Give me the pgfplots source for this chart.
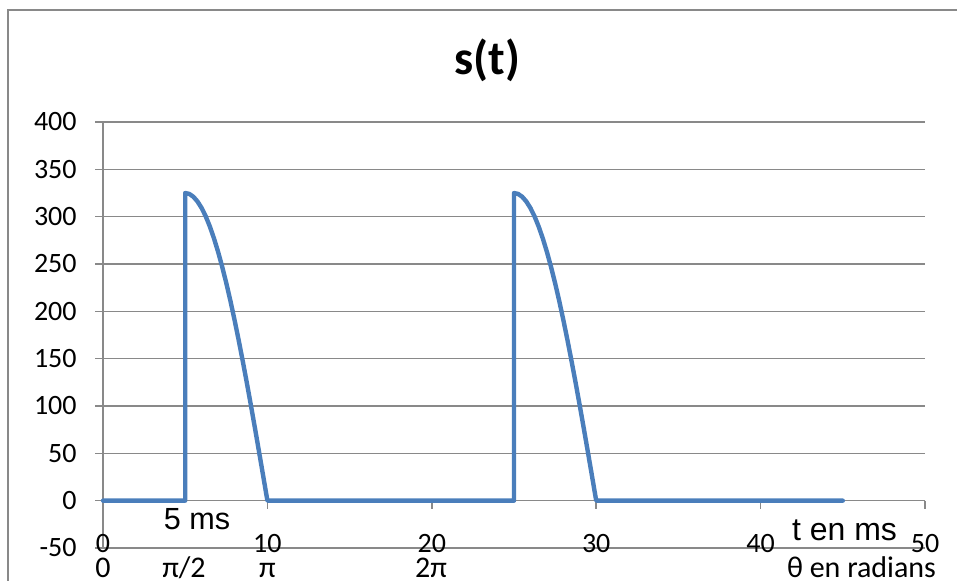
\documentclass[border=0pt]{standalone}
\usepackage{fontspec}
\setmainfont{Carlito}
\newfontfamily\arialf{Liberation Sans}
\usepackage{pgfplots}
\pgfplotsset{compat=1.18}
\definecolor{sblue}{RGB}{74,126,187}
\definecolor{ggray}{RGB}{137,137,137}
\begin{document}
\begin{tikzpicture}
\useasboundingbox (0,0) rectangle (478.5pt,290.5pt);
\draw[ggray, line width=0.75pt] (4pt,-2pt) -- (4pt,285.5pt) -- (480pt,285.5pt);
\begin{axis}[
 at={(51.5pt,16.5pt)}, anchor=south west,
 width=411pt, height=213pt, scale only axis,
 xmin=0,xmax=50,ymin=-50,ymax=400,
 axis x line*=bottom, axis y line*=left,
 axis line style={ggray, line width=0.75pt, -},
 xtick={0,10,20,30,40,50}, xticklabels={0,10,20,30,40,50},
 ytick={-50,0,50,100,150,200,250,300,350,400},
 yticklabels={-50,0,50,100,150,200,250,300,350,400},
 ymajorgrids, grid style={ggray, line width=0.75pt},
 x tick style={draw=none},
 y tick style={ggray, line width=0.75pt},
 tick align=outside, major tick length=4pt,
 tick label style={font=\fontsize{14}{16}\selectfont, text=black},
 xticklabel style={anchor=base, yshift=1.5pt, inner sep=0pt},
 yticklabel style={anchor=east, inner sep=0pt, xshift=-9pt},
 clip=false,
]
\draw[ggray, line width=0.75pt] (axis cs:0,0) -- (axis cs:50,0);
\draw[ggray, line width=0.75pt] (axis cs:0,0) -- ([yshift=-4pt]axis cs:0,0);
\draw[ggray, line width=0.75pt] (axis cs:10,0) -- ([yshift=-4pt]axis cs:10,0);
\draw[ggray, line width=0.75pt] (axis cs:20,0) -- ([yshift=-4pt]axis cs:20,0);
\draw[ggray, line width=0.75pt] (axis cs:30,0) -- ([yshift=-4pt]axis cs:30,0);
\draw[ggray, line width=0.75pt] (axis cs:40,0) -- ([yshift=-4pt]axis cs:40,0);
\draw[ggray, line width=0.75pt] (axis cs:50,0) -- ([yshift=-4pt]axis cs:50,0);
\addplot[sblue, line width=2.2pt, line join=round, line cap=round, no marks] coordinates {
(0,0) (5,0) (5,325) (5.25,324.0) (5.5,321.0) (5.75,316.0) (6,309.1) (6.25,300.3) (6.5,289.6) (6.75,277.1) (7,262.9) (7.25,247.1) (7.5,229.8) (7.75,211.1) (8,191.0) (8.25,169.8) (8.5,147.5) (8.75,124.4) (9,100.4) (9.25,75.9) (9.5,50.8) (9.75,25.5) (10,0)
(25,0) (25,325) (25.25,324.0) (25.5,321.0) (25.75,316.0) (26,309.1) (26.25,300.3) (26.5,289.6) (26.75,277.1) (27,262.9) (27.25,247.1) (27.5,229.8) (27.75,211.1) (28,191.0) (28.25,169.8) (28.5,147.5) (28.75,124.4) (29,100.4) (29.25,75.9) (29.5,50.8) (29.75,25.5) (30,0)
(45,0)
};
\end{axis}
\node[anchor=base, font=\bfseries\fontsize{24}{28}\selectfont] at (243.75pt,253pt) {s(t)};
\node[anchor=base, inner sep=0pt, font=\arialf\fontsize{15.3}{18}\selectfont] at (98.5pt,25.5pt) {5 ms};
\node[anchor=base, inner sep=0pt, font=\arialf\fontsize{16}{19}\selectfont] at (422.25pt,20pt) {t en ms};
\begin{scope}[every node/.style={anchor=base, inner sep=0pt, font=\fontsize{15}{17}\selectfont}]
\node at (51.5pt,1.8pt) {0};
\node at (92pt,1.8pt) {π/2};
\node at (133.75pt,1.8pt) {π};
\node at (215.5pt,1.8pt) {2π};
\node at (430.75pt,1.8pt) {θ en radians};
\end{scope}
\end{tikzpicture}
\end{document}
